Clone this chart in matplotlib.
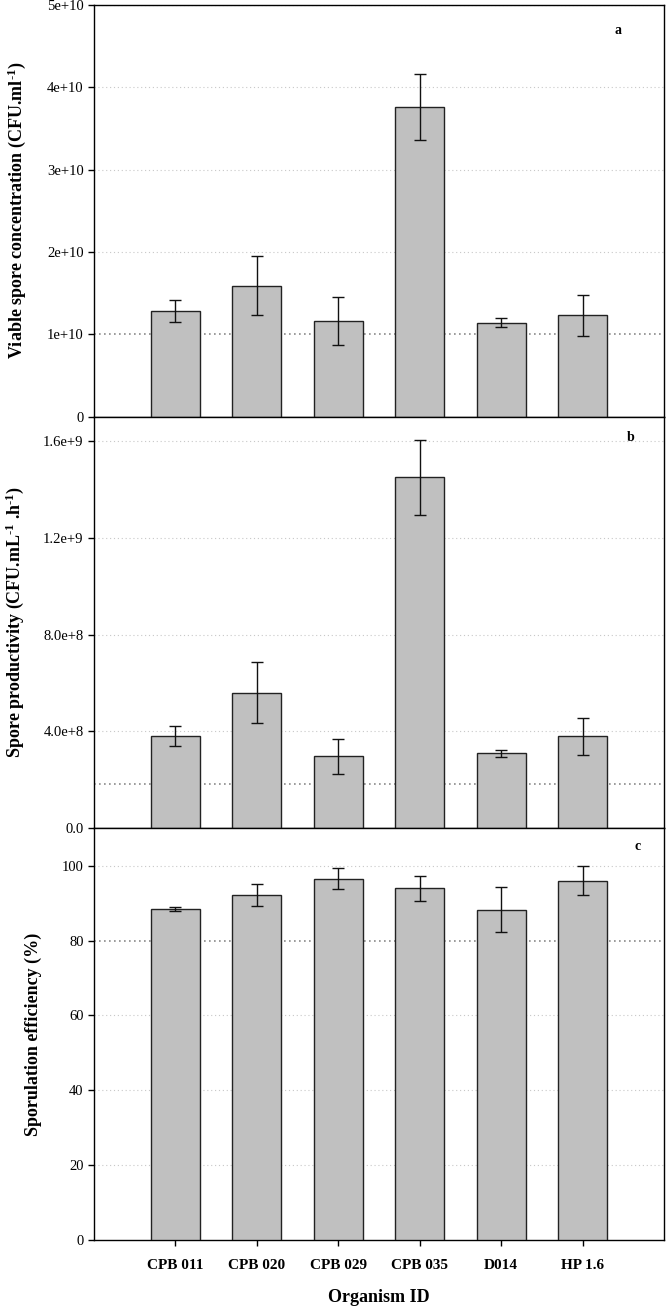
import numpy as np
import matplotlib
matplotlib.use('Agg')
import matplotlib.pyplot as plt

plt.rcParams['font.family'] = ['Liberation Serif', 'DejaVu Serif']
plt.rcParams['mathtext.fontset'] = 'custom'
plt.rcParams['mathtext.rm'] = 'Liberation Serif:bold'
plt.rcParams['mathtext.bf'] = 'Liberation Serif:bold'
plt.rcParams['mathtext.default'] = 'bf'

# ── DATA ────────────────────────────────────────────────────────────────
organisms = ['CPB 011', 'CPB 020', 'CPB 029', 'CPB 035', 'D014', 'HP 1.6']

spore_conc = [1.28e10, 1.59e10, 1.16e10, 3.76e10, 1.14e10, 1.23e10]
spore_conc_err = [0.135e10, 0.36e10, 0.29e10, 0.405e10, 0.057e10, 0.25e10]

productivity = [3.83e8, 5.60e8, 2.97e8, 1.449e9, 3.10e8, 3.80e8]
productivity_err = [0.41e8, 1.25e8, 0.73e8, 1.55e8, 0.15e8, 0.77e8]

efficiency = [88.5, 92.1, 96.5, 94.0, 88.3, 96.0]
efficiency_err = [0.55, 2.9, 2.8, 3.3, 6.0, 3.85]

# reference (threshold) lines
ref_conc = 1e10
ref_prod = 1.85e8
ref_eff = 80

ticks_a = [0, 1e10, 2e10, 3e10, 4e10, 5e10]
ticklabels_a = ['0', '1e+10', '2e+10', '3e+10', '4e+10', '5e+10']
ticks_b = [0, 4e8, 8e8, 1.2e9, 1.6e9]
ticklabels_b = ['0.0', '4.0e+8', '8.0e+8', '1.2e+9', '1.6e+9']
ticks_c = [0, 20, 40, 60, 80, 100]
ticklabels_c = ['0', '20', '40', '60', '80', '100']

# ── FIGURE ──────────────────────────────────────────────────────────────
fig = plt.figure(figsize=(6.66, 13.09), dpi=100)
left, right, bottom, top = 94/666, 664/666, 1 - 1240/1309, 1 - 5/1309
h = (top - bottom) / 3
x = np.arange(1, len(organisms) + 1)

panels = [
    (spore_conc, spore_conc_err, ref_conc, (0, 5e10), ticks_a, ticklabels_a,
     r'Viable spore concentration (CFU.ml$^{\text{-1}}$)', 'a', (0.919, 0.937), -0.135),
    (productivity, productivity_err, ref_prod, (0, 1.7e9), ticks_b, ticklabels_b,
     r'Spore productivity (CFU.mL$^{\text{-1}}$ .h$^{\text{-1}}$)', 'b', (0.942, 0.949), -0.139),
    (efficiency, efficiency_err, ref_eff, (0, 110), ticks_c, ticklabels_c,
     'Sporulation efficiency (%)', 'c', (0.954, 0.956), -0.107),
]

for i, (vals, errs, ref, ylim, ticks, tlabels, ylabel, letter, lpos, labx) in enumerate(panels):
    ax = fig.add_axes([left, top - (i + 1) * h, right - left, h])
    ax.bar(x, vals, width=0.6, color='#c0c0c0', edgecolor='#222222', linewidth=1.0, zorder=3)
    ax.errorbar(x, vals, yerr=errs, fmt='none', ecolor='#111111', elinewidth=1.0,
                capsize=4.5, capthick=1.0, zorder=4)
    for t in ticks:
        if t != ref and t != 0:
            ax.axhline(t, color='#c8c8c8', linestyle=(0, (1, 2.5)), linewidth=0.8, zorder=1)
    ax.axhline(ref, color='#8a8a8a', linestyle=(0, (1, 2)), linewidth=1.2, zorder=2)

    ax.set_xlim(0, 7)
    ax.set_ylim(*ylim)
    ax.set_yticks(ticks)
    ax.set_yticklabels(tlabels, fontsize=10.5)
    ax.tick_params(axis='y', direction='out', length=4, width=1, right=False)
    ax.set_ylabel(ylabel, fontsize=13, fontweight='bold', va='center')
    ax.yaxis.set_label_coords(labx, 0.5)
    ax.text(lpos[0], lpos[1], letter, transform=ax.transAxes, fontsize=10,
            fontweight='bold', ha='center', va='center')
    for sp in ax.spines.values():
        sp.set_linewidth(1.0)
    if i < 2:
        ax.set_xticks([])
    else:
        ax.set_xticks(x)
        ax.set_xticklabels(organisms, fontsize=11, fontweight='bold')
        ax.tick_params(axis='x', direction='out', length=4, width=1, pad=10, top=False)
        ax.set_xlabel('Organism ID', fontsize=13, fontweight='bold', labelpad=12)

fig.savefig('out.png', dpi=100)
